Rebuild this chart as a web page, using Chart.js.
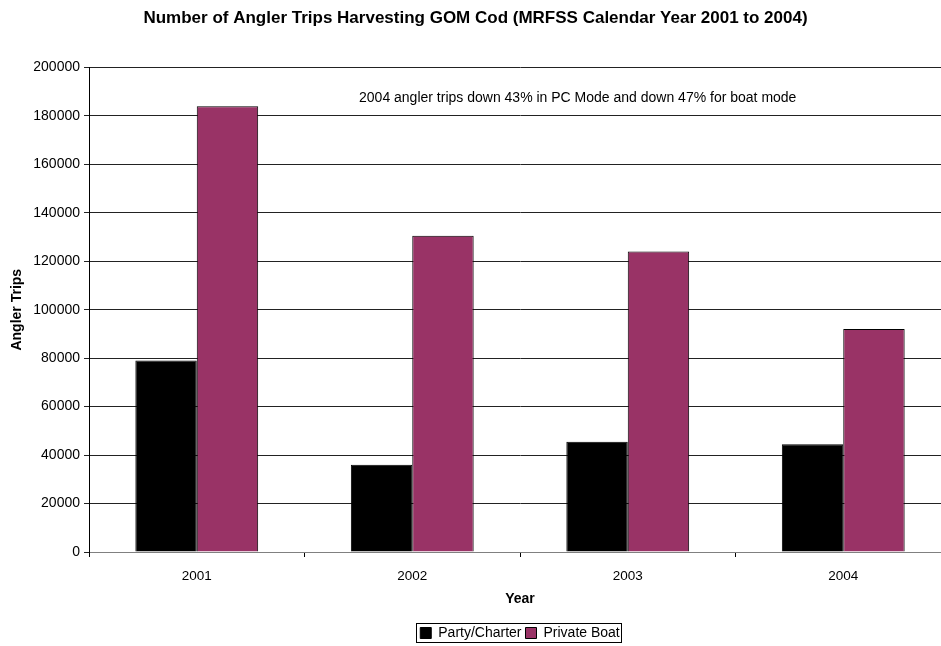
<!DOCTYPE html>
<html>
<head>
<meta charset="utf-8">
<script src="https://cdn.jsdelivr.net/npm/chart.js@4/dist/chart.umd.min.js"></script>
<style>
  html, body { margin: 0; padding: 0; background: #fff; overflow: hidden; }
  #wrap { width: 960px; height: 646px; }
</style>
</head>
<body>
<div id="wrap"><canvas id="myChart" width="960" height="646"></canvas></div>
<script>
// datos
const anios = ['2001', '2002', '2003', '2004'];
const partyCharter = [79000, 36000, 45500, 44500];
const privateBoat = [184000, 130500, 124000, 92000];
const nota = '2004 angler trips down 43% in PC Mode and down 47% for boat mode';

const fuente = 'Arial, "Liberation Sans", sans-serif';

// texto de nota dentro del area
const pluginNota = {
    id: 'nota',
    afterDraw(chart) {
        const ctx = chart.ctx;
        const area = chart.chartArea;
        ctx.save();
        ctx.font = '14px ' + fuente;
        ctx.fillStyle = '#000';
        ctx.textBaseline = 'middle';
        ctx.fillText(nota, area.left + 270, area.top + 31);
        ctx.restore();
    }
};

// leyenda centrada sobre el area del grafico, con borde
const pluginBordeLeyenda = {
    id: 'bordeLeyenda',
    afterLayout(chart) {
        const leyenda = chart.legend;
        leyenda.left = chart.chartArea.left;
        leyenda.right = chart.chartArea.right;
        leyenda.width = leyenda.right - leyenda.left;
        leyenda.top += 4;
        leyenda.bottom += 4;
    },
    afterDraw(chart) {
        const cajas = chart.legend.legendHitBoxes;
        if (!cajas || !cajas.length) return;
        let izq = Math.min(...cajas.map(c => c.left));
        let der = Math.max(...cajas.map(c => c.left + c.width));
        let arriba = Math.min(...cajas.map(c => c.top));
        let abajo = Math.max(...cajas.map(c => c.top + c.height));
        const ctx = chart.ctx;
        ctx.save();
        ctx.strokeStyle = '#000';
        ctx.lineWidth = 1;
        ctx.strokeRect(Math.round(izq - 4) + 0.5, Math.round(arriba - 3) + 0.5,
            Math.round(der - izq + 5), Math.round(abajo - arriba + 5));
        ctx.restore();
    }
};

let myChart = document.getElementById('myChart');
let grafico = new Chart(myChart, {
    type: 'bar',
    data: {
        labels: anios,
        datasets: [
            {
                label: 'Party/Charter',
                data: partyCharter,
                backgroundColor: '#000000',
                borderColor: '#000000',
                borderWidth: 1
            },
            {
                label: 'Private Boat',
                data: privateBoat,
                backgroundColor: '#993366',
                borderColor: '#000000',
                borderWidth: 1
            }
        ]
    },
    options: {
        responsive: false,
        animation: false,
        layout: { padding: { left: 0, right: 9, top: 0, bottom: 0 } },
        datasets: { bar: { categoryPercentage: 0.57, barPercentage: 1.0 } },
        plugins: {
            title: {
                display: true,
                text: 'Number of Angler Trips Harvesting GOM Cod (MRFSS Calendar Year 2001 to 2004)',
                color: '#000',
                font: { family: fuente, size: 17, weight: 'bold' },
                padding: { top: 8, bottom: 39 }
            },
            legend: {
                position: 'bottom',
                labels: {
                    color: '#000',
                    font: { family: fuente, size: 14 },
                    boxWidth: 11,
                    boxHeight: 11,
                    padding: 4,
                    useBorderRadius: false
                }
            },
            tooltip: { enabled: false }
        },
        scales: {
            x: {
                grid: {
                    drawOnChartArea: false,
                    drawTicks: true,
                    tickLength: 5,
                    color: '#000'
                },
                border: { display: true, color: '#808080', width: 1 },
                ticks: { color: '#000', font: { family: fuente, size: 13.5 }, padding: 11 },
                title: {
                    display: true,
                    text: 'Year',
                    color: '#000',
                    font: { family: fuente, size: 14, weight: 'bold' },
                    padding: { top: -4, bottom: 10 }
                }
            },
            y: {
                min: 0,
                max: 200000,
                ticks: {
                    stepSize: 20000,
                    color: '#000',
                    font: { family: fuente, size: 14 },
                    padding: 4,
                    callback: function(valor) { return String(valor); }
                },
                grid: {
                    color: '#222',
                    lineWidth: 1,
                    tickLength: 5
                },
                border: { display: true, color: '#000', width: 1 },
                title: {
                    display: true,
                    text: 'Angler Trips',
                    color: '#000',
                    font: { family: fuente, size: 14, weight: 'bold' },
                    padding: { top: 9, bottom: 3.5 }
                }
            }
        }
    },
    plugins: [pluginNota, pluginBordeLeyenda]
});
</script>
</body>
</html>
